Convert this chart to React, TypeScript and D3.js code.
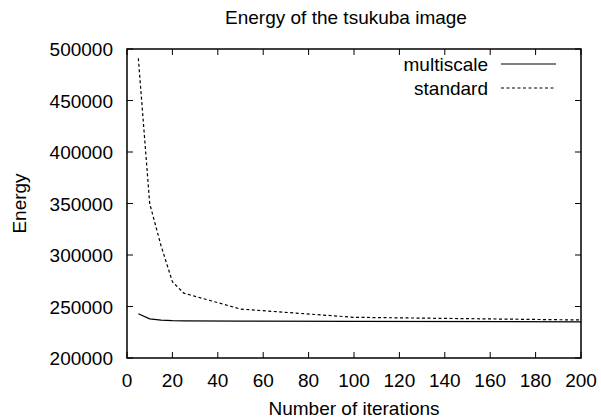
import React from "react";
import * as d3 from "d3";

const iterations = [5, 10, 15, 20, 25, 50, 100, 200];
const multiscale = [243000, 238000, 236800, 236200, 236000, 235800, 235500, 235100];
const standard = [491000, 350000, 309000, 274000, 263000, 247500, 239500, 236900];
const xTicks = [0, 20, 40, 60, 80, 100, 120, 140, 160, 180, 200];
const yTicks = [200000, 250000, 300000, 350000, 400000, 450000, 500000];

const W = 601, H = 419;
const L = 127, R = 581, T = 49, B = 358;
const FONT = "'Liberation Sans', Arial, sans-serif";

export default function App() {
  const x = d3.scaleLinear().domain([0, 200]).range([L, R]);
  const y = d3.scaleLinear().domain([200000, 500000]).range([B, T]);
  const line = d3.line<number>().x((_, i) => x(iterations[i])).y((d) => y(d));
  const tl = 6;
  return (
    <svg width={W} height={H} style={{ position: "absolute", left: 0, top: 0, background: "#fff" }} fontFamily={FONT}>
      <rect x={0} y={0} width={W} height={H} fill="#fff" />
      {xTicks.map((t) => (
        <g key={"x" + t}>
          <line x1={x(t)} x2={x(t)} y1={B} y2={B - tl} stroke="#000" strokeWidth={1} />
          <line x1={x(t)} x2={x(t)} y1={T} y2={T + tl} stroke="#000" strokeWidth={1} />
          <text x={x(t)} y={387} textAnchor="middle" fontSize={19}>{t}</text>
        </g>
      ))}
      {yTicks.map((t) => (
        <g key={"y" + t}>
          <line x1={L} x2={L + tl} y1={y(t)} y2={y(t)} stroke="#000" strokeWidth={1} />
          <line x1={R} x2={R - tl} y1={y(t)} y2={y(t)} stroke="#000" strokeWidth={1} />
          <text x={113} y={y(t) + 7} textAnchor="end" fontSize={19}>{t}</text>
        </g>
      ))}
      <path d={line(multiscale) || ""} fill="none" stroke="#000" strokeWidth={1.2} />
      <path d={line(standard) || ""} fill="none" stroke="#000" strokeWidth={1.2} strokeDasharray="3,2.5" />
      <rect x={L} y={T} width={R - L} height={B - T} fill="none" stroke="#000" strokeWidth={1.5} />
      <text x={488} y={71} textAnchor="end" fontSize={19}>multiscale</text>
      <line x1={501} x2={556} y1={64} y2={64} stroke="#000" strokeWidth={1.2} />
      <text x={488} y={95} textAnchor="end" fontSize={19}>standard</text>
      <line x1={501} x2={556} y1={88} y2={88} stroke="#000" strokeWidth={1.2} strokeDasharray="3,2.5" />
      <text x={346} y={24} textAnchor="middle" fontSize={19}>Energy of the tsukuba image</text>
      <text x={354} y={415} textAnchor="middle" fontSize={19}>Number of iterations</text>
      <text transform={`translate(26,${(T + B) / 2}) rotate(-90)`} textAnchor="middle" fontSize={19}>Energy</text>
    </svg>
  );
}
